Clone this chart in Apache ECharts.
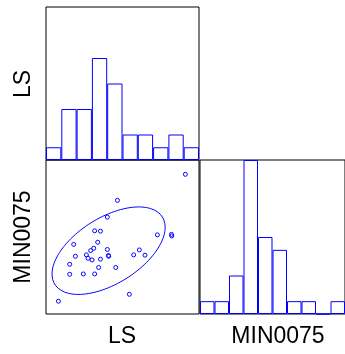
<!DOCTYPE html>
<html><head><meta charset="utf-8">
<script src="https://cdn.jsdelivr.net/npm/echarts@6/dist/echarts.min.js"></script>
<style>html,body{margin:0;padding:0;background:#fff;}#c{width:345px;height:354px;}</style>
</head><body><div id="c"></div>
<script>
// Variable names
const varNames = ['LS', 'MIN0075'];
// Histogram bins (10 equal bins over the panel range)
const binLabels = ['1','2','3','4','5','6','7','8','9','10'];
const lsCounts = [1, 4, 4, 8, 6, 2, 2, 1, 2, 1];
const minCounts = [1, 1, 3, 12, 6, 5, 1, 1, 0, 1];
// Scatter values in panel units (0..10 for both variables)
const lsValues = [9.11, 4.67, 4.01, 3.18, 3.56, 7.28, 8.20, 8.22, 1.81, 3.38, 3.12, 2.92, 4.01, 6.10, 1.92, 2.64, 2.75, 3.01, 3.56, 4.08, 4.10, 5.73, 6.47, 1.55, 3.44, 4.56, 1.55, 2.44, 3.18, 5.45, 0.81];
const minValues = [9.07, 7.38, 6.29, 5.40, 5.38, 5.14, 5.17, 5.07, 4.52, 4.66, 4.27, 4.12, 4.19, 4.16, 3.75, 3.84, 3.62, 3.51, 3.56, 3.80, 3.75, 3.84, 3.82, 3.23, 3.02, 3.02, 2.58, 2.60, 2.60, 1.28, 0.83];
const ellipseScale = 1.77;

const n = lsValues.length;
const mx = lsValues.reduce((a,b)=>a+b,0)/n;
const my = minValues.reduce((a,b)=>a+b,0)/n;
let sxx=0, syy=0, sxy=0;
for (let i=0;i<n;i++){const dx=lsValues[i]-mx, dy=minValues[i]-my; sxx+=dx*dx; syy+=dy*dy; sxy+=dx*dy;}
sxx/=(n-1); syy/=(n-1); sxy/=(n-1);
const a11 = Math.sqrt(sxx), a21 = sxy/a11, a22 = Math.sqrt(syy - a21*a21);
const ellipse = [];
for (let i=0;i<=120;i++){
  const t = 2*Math.PI*i/120, c=Math.cos(t), s=Math.sin(t);
  ellipse.push([mx + ellipseScale*(a11*c), my + ellipseScale*(a21*c + a22*s)]);
}
const scatterData = lsValues.map((v,i)=>[v, minValues[i]]);

const BLUE = '#0000ff';
const gridStyle = {show:true, borderColor:'#000', borderWidth:1, backgroundColor:'transparent'};
const hidden = {show:false};
const chart = echarts.init(document.getElementById('c'), null, {renderer:'canvas'});
const font = 'Liberation Sans, Arial, sans-serif';
chart.setOption({
  animation:false,
  grid:[
    Object.assign({left:46, top:7, width:153, height:153}, gridStyle),
    Object.assign({left:46, top:160, width:153, height:154}, gridStyle),
    Object.assign({left:200, top:160, width:153, height:154}, gridStyle)
  ],
  xAxis:[
    {gridIndex:0, type:'category', data:binLabels, axisLine:hidden, axisTick:hidden, axisLabel:hidden, splitLine:hidden},
    {gridIndex:1, type:'value', min:0, max:10, axisLine:hidden, axisTick:hidden, axisLabel:hidden, splitLine:hidden},
    {gridIndex:2, type:'category', data:binLabels, axisLine:hidden, axisTick:hidden, axisLabel:hidden, splitLine:hidden}
  ],
  yAxis:[
    {gridIndex:0, type:'value', min:0, max:12, axisLine:hidden, axisTick:hidden, axisLabel:hidden, splitLine:hidden},
    {gridIndex:1, type:'value', min:0, max:10, axisLine:hidden, axisTick:hidden, axisLabel:hidden, splitLine:hidden},
    {gridIndex:2, type:'value', min:0, max:12, axisLine:hidden, axisTick:hidden, axisLabel:hidden, splitLine:hidden}
  ],
  series:[
    {type:'bar', xAxisIndex:0, yAxisIndex:0, data:lsCounts, barWidth:'100%', barCategoryGap:0,
     itemStyle:{color:'#fff', borderColor:BLUE, borderWidth:1}, silent:true},
    {type:'bar', xAxisIndex:2, yAxisIndex:2, data:minCounts, barWidth:'100%', barCategoryGap:0,
     itemStyle:{color:'#fff', borderColor:BLUE, borderWidth:1}, silent:true},
    {type:'line', xAxisIndex:1, yAxisIndex:1, data:ellipse, showSymbol:false, smooth:false,
     lineStyle:{color:BLUE, width:1}, silent:true, z:2},
    {type:'scatter', xAxisIndex:1, yAxisIndex:1, data:scatterData, symbol:'circle', symbolSize:4,
     itemStyle:{color:'rgba(255,255,255,0)', borderColor:BLUE, borderWidth:1, opacity:1}, silent:true, z:3}
  ],
  graphic:[
    {type:'text', x:24, y:84, rotation:Math.PI/2, style:{text:varNames[0], font:'23px '+font, fill:'#000', textAlign:'center', textVerticalAlign:'middle'}},
    {type:'text', x:24, y:237, rotation:Math.PI/2, style:{text:varNames[1], font:'23px '+font, fill:'#000', textAlign:'center', textVerticalAlign:'middle'}},
    {type:'text', x:122, y:337, style:{text:varNames[0], font:'23px '+font, fill:'#000', textAlign:'center', textVerticalAlign:'middle'}},
    {type:'text', x:278, y:337, style:{text:varNames[1], font:'23px '+font, fill:'#000', textAlign:'center', textVerticalAlign:'middle'}}
  ]
});
</script></body></html>
